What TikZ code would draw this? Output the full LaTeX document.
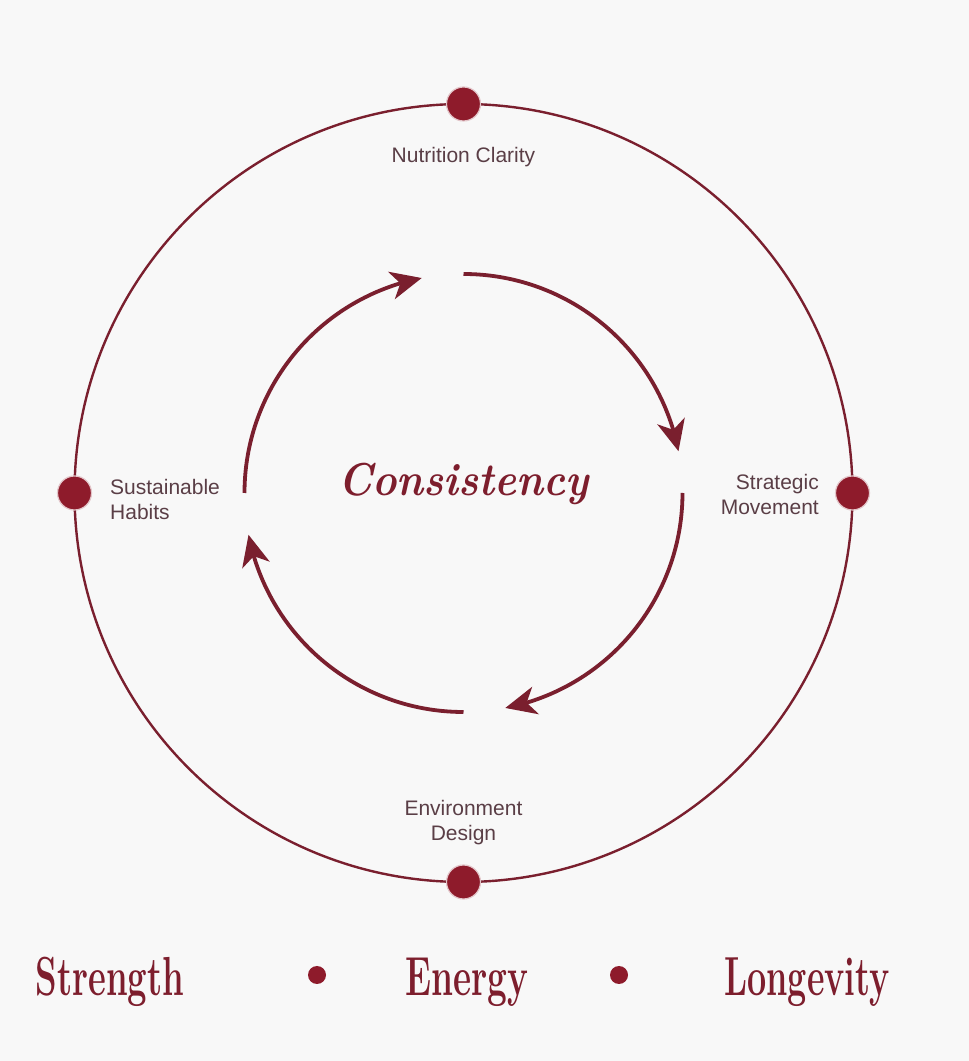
\documentclass[tikz,border=0pt]{standalone}
\usepackage{fontspec}
\setsansfont{Liberation Sans}
\usetikzlibrary{arrows.meta,bending}
\definecolor{bg}{RGB}{248,248,248}
\definecolor{linered}{RGB}{122,31,46}
\definecolor{dotred}{RGB}{142,27,43}
\definecolor{labelcol}{RGB}{90,62,70}
\definecolor{wordred}{RGB}{125,30,45}
\begin{document}
\begin{tikzpicture}[x=1pt,y=1pt,
  ring/.style={draw=linered,line width=2.4pt},
  cyc/.style={draw=linered,line width=3.8pt,-{Stealth[length=31pt,width=28pt,inset=9pt]}},
  bigdot/.style={circle,fill=dotred,draw=dotred!25,line width=1.2pt,minimum size=34pt,inner sep=0pt},
  smalldot/.style={circle,fill=dotred,minimum size=18pt,inner sep=0pt},
  lab/.style={font=\sffamily\fontsize{21}{25}\selectfont,text=labelcol,inner sep=0pt},
  word/.style={font=\bfseries\fontsize{55}{60}\selectfont,text=wordred,inner sep=0pt,anchor=base}]
\useasboundingbox (0,0) rectangle (969,1061);
\fill[bg] (0,0) rectangle (969,1061);
\coordinate (c) at (463.5,568);
% outer ring
\draw[ring] (c) circle[radius=389];
\node[bigdot] (dtop) at ([shift={(90:389)}]c) {};
\node[bigdot] (dright) at ([shift={(0:389)}]c) {};
\node[bigdot] (dbottom) at ([shift={(-90:389)}]c) {};
\node[bigdot] (dleft) at ([shift={(180:389)}]c) {};
% inner cycle
\coordinate (a1) at ([shift={(90:219)}]c);
\coordinate (a2) at ([shift={(0:219)}]c);
\coordinate (a3) at ([shift={(-90:219)}]c);
\coordinate (a4) at ([shift={(180:219)}]c);
\draw[cyc] (a1) arc[start angle=90, end angle=11, radius=219];
\draw[cyc] (a2) arc[start angle=0, end angle=-79, radius=219];
\draw[cyc] (a3) arc[start angle=-90, end angle=-169, radius=219];
\draw[cyc] (a4) arc[start angle=180, end angle=101, radius=219];
% centre
\node[font=\bfseries\itshape\fontsize{46}{54}\selectfont,text=wordred,inner sep=0pt,anchor=base] (cons) at (463.5,565) {\scalebox{0.9}[1]{Consistency}};
% labels
\node[lab,anchor=base] (nc) at (463.5,898) {Nutrition Clarity};
\node[lab,align=right,anchor=east] (sm) at (819,567) {Strategic\\Movement};
\node[lab,align=left,anchor=west] (sh) at (110,562) {Sustainable\\Habits};
\node[lab,align=center] (ed) at (463.5,238) {Environment\\Design};
% bottom words
\node[word] (w1) at (110,65) {\scalebox{0.63}[1]{Strength}};
\node[smalldot] (s1) at (317,86) {};
\node[word] (w2) at (467,65) {\scalebox{0.64}[1]{Energy}};
\node[smalldot] (s2) at (619,86) {};
\node[word] (w3) at (807,65) {\scalebox{0.62}[1]{Longevity}};
\end{tikzpicture}
\end{document}
